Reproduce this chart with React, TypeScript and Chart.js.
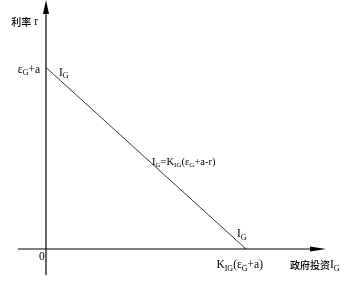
import React, { useEffect, useRef } from "react";
import { Chart, registerables } from "chart.js";

Chart.register(...registerables);

// ---- data ----
const interceptR = 10; // εG + a  (r-intercept)
const interceptI = 10; // KIG(εG + a)  (IG-intercept)
const lineI = [0, interceptI];
const lineR = [interceptR, 0];
const originLabel = "0";
const yAxisTitle = "利率 r";
const xAxisTitle = "政府投资I_{G}";
const rInterceptLabel = "ε_{G}+a";
const iInterceptLabel = "K_{IG}(ε_{G}+a)";
const equationLabel = "I_{G}=K_{IG}(ε_{G}+a-r)";
const curveLabel = "I_{G}";

const FONT = "'Liberation Serif', 'Noto Sans CJK SC', serif";
const CJK_FONT = "'Noto Sans CJK SC', serif";
const INK = "#000";

type Seg = { t: string; sub: boolean; cjk: boolean };
function parse(s: string): Seg[] {
  const raw: { t: string; sub: boolean }[] = [];
  const re = /_\{([^}]*)\}/g;
  let last = 0;
  let m: RegExpExecArray | null;
  while ((m = re.exec(s))) {
    if (m.index > last) raw.push({ t: s.slice(last, m.index), sub: false });
    raw.push({ t: m[1], sub: true });
    last = m.index + m[0].length;
  }
  if (last < s.length) raw.push({ t: s.slice(last), sub: false });
  const out: Seg[] = [];
  for (const r of raw) {
    const parts = r.t.match(/[\u4e00-\u9fff]+|[^\u4e00-\u9fff]+/g) || [];
    for (const p of parts) out.push({ t: p, sub: r.sub, cjk: /[\u4e00-\u9fff]/.test(p) });
  }
  return out;
}

function fontFor(sg: Seg, size: number) {
  if (sg.cjk) return `500 ${Math.round(size * 0.88)}px ${CJK_FONT}`;
  return `${sg.sub ? Math.round(size * 0.68) : size}px ${FONT}`;
}

function drawRich(ctx: CanvasRenderingContext2D, s: string, x: number, y: number, align: "left" | "right" | "center", size = 11.5) {
  const segs = parse(s);
  let w = 0;
  for (const sg of segs) {
    ctx.font = fontFor(sg, size);
    w += ctx.measureText(sg.t).width;
  }
  let cx = align === "left" ? x : align === "right" ? x - w : x - w / 2;
  ctx.textBaseline = "middle";
  ctx.textAlign = "left";
  ctx.fillStyle = INK;
  for (const sg of segs) {
    ctx.font = fontFor(sg, size);
    ctx.fillText(sg.t, cx, sg.sub ? y + size * 0.3 : y);
    cx += ctx.measureText(sg.t).width;
  }
}

const diagramPlugin = {
  id: "diagram",
  afterDatasetsDraw(chart: any) {
    const { ctx, scales } = chart;
    const xs = scales.x;
    const ys = scales.y;
    const ox = xs.getPixelForValue(0);
    const oy = ys.getPixelForValue(0);
    const top = chart.chartArea.top;
    ctx.save();
    ctx.strokeStyle = INK;
    ctx.fillStyle = INK;
    ctx.lineWidth = 1.2;
    // y axis
    ctx.beginPath();
    ctx.moveTo(ox, oy + 26);
    ctx.lineTo(ox, top + 10);
    ctx.stroke();
    ctx.beginPath();
    ctx.moveTo(ox, top);
    ctx.lineTo(ox - 3, top + 14);
    ctx.lineTo(ox + 3, top + 14);
    ctx.closePath();
    ctx.fill();
    // x axis
    const xEnd = ox + 280;
    ctx.beginPath();
    ctx.moveTo(ox - 28, oy);
    ctx.lineTo(xEnd - 10, oy);
    ctx.stroke();
    ctx.beginPath();
    ctx.moveTo(xEnd, oy);
    ctx.lineTo(xEnd - 16, oy - 2.5);
    ctx.lineTo(xEnd - 16, oy + 2.5);
    ctx.closePath();
    ctx.fill();

    const rPix = ys.getPixelForValue(interceptR);
    const iPix = xs.getPixelForValue(interceptI);
    drawRich(ctx, yAxisTitle, ox - 8, top + 22, "right");
    drawRich(ctx, rInterceptLabel, ox - 6, rPix + 2, "right");
    drawRich(ctx, curveLabel, ox + 13, rPix + 5, "left");
    const midX = xs.getPixelForValue(interceptI * 0.55);
    const midY = ys.getPixelForValue(interceptR * 0.45);
    drawRich(ctx, equationLabel, midX - 4, midY - 5, "left", 10.5);
    drawRich(ctx, curveLabel, iPix - 9, oy - 15, "left");
    drawRich(ctx, originLabel, ox - 7, oy + 8, "left");
    drawRich(ctx, iInterceptLabel, iPix + 17, oy + 16, "right");
    drawRich(ctx, xAxisTitle, iPix + 44, oy + 16, "left");
    ctx.restore();
  },
};

export default function App() {
  const ref = useRef<HTMLCanvasElement | null>(null);
  useEffect(() => {
    document.body.style.margin = "0";
    const canvas = ref.current!;
    const chart = new Chart(canvas, {
      type: "scatter",
      data: {
        datasets: [
          {
            data: lineI.map((v, i) => ({ x: v, y: lineR[i] })),
            showLine: true,
            borderColor: "#3a3a3a",
            borderWidth: 1,
            pointRadius: 0,
            fill: false,
          },
        ],
      },
      options: {
        animation: false,
        responsive: false,
        events: [],
        layout: { padding: 0 },
        plugins: { legend: { display: false }, tooltip: { enabled: false } },
        scales: {
          x: { type: "linear", display: false, min: -2.3, max: 15.1 },
          y: { type: "linear", display: false, min: -1.93, max: 13.72 },
        },
      },
      plugins: [diagramPlugin],
    });
    return () => chart.destroy();
  }, []);
  return (
    <div style={{ position: "fixed", left: 0, top: 0, width: 348, height: 284, background: "#fff" }}>
      <canvas ref={ref} width={348} height={284} style={{ width: 348, height: 284, display: "block" }} />
    </div>
  );
}
